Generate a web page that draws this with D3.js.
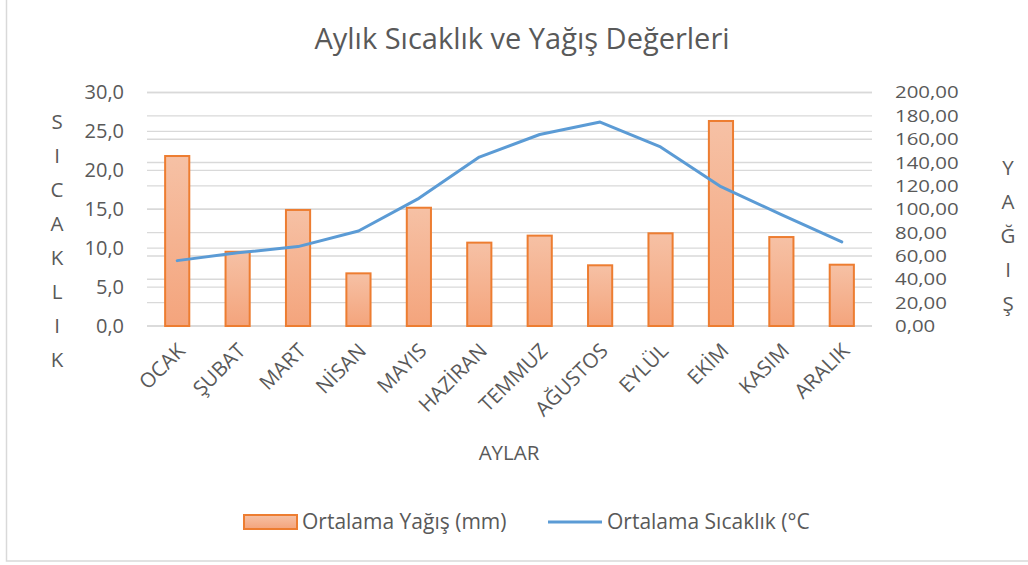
<!DOCTYPE html>
<html>
<head>
<meta charset="utf-8">
<script src="https://cdn.jsdelivr.net/npm/d3@7"></script>
<style>
  body { margin: 0; background: #fff; }
  text { font-family: "Open Sans", sans-serif; fill: #595959; }
</style>
</head>
<body>
<svg></svg>
<script>
const width = 1028
const height = 565

// data
const months = ["OCAK", "ŞUBAT", "MART", "NİSAN", "MAYIS", "HAZİRAN", "TEMMUZ", "AĞUSTOS", "EYLÜL", "EKİM", "KASIM", "ARALIK"]
const yagis = [145.6, 63.6, 99.4, 45.1, 101.3, 71.4, 77.4, 52.0, 79.4, 175.6, 76.2, 52.5]
const sicaklik = [8.4, 9.4, 10.2, 12.2, 16.4, 21.7, 24.6, 26.2, 23.0, 17.9, 14.3, 10.8]
const leftTicks = [0, 5, 10, 15, 20, 25, 30]
const rightTicks = [0, 20, 40, 60, 80, 100, 120, 140, 160, 180, 200]

const svg = d3.select("svg")
  .attr("width", width)
  .attr("height", height)

const tr = d3.formatLocale({decimal: ",", thousands: ".", grouping: [3], currency: ["", ""]})
const fmtL = tr.format(".1f")
const fmtR = tr.format(".2f")

const plot = {left: 147, right: 872, top: 92.5, bottom: 326}

const x = d3.scaleBand()
  .domain(months)
  .range([plot.left, plot.right])
  .paddingInner(0.6)
  .paddingOuter(0.3)

const yL = d3.scaleLinear().domain([0, 30]).range([plot.bottom, plot.top])
const yR = d3.scaleLinear().domain([0, 200]).range([plot.bottom, plot.top])

// chart border
svg.append("rect")
  .attr("x", 6.5).attr("y", -5)
  .attr("width", 1040).attr("height", 566)
  .attr("fill", "#fff")
  .attr("stroke", "#d9d9d9")
  .attr("stroke-width", 1.5)

const defs = svg.append("defs")
const grad = defs.append("linearGradient")
  .attr("id", "barGrad")
  .attr("x1", 0).attr("y1", 0).attr("x2", 0).attr("y2", 1)
grad.append("stop").attr("offset", "0%").attr("stop-color", "#f6c1a5")
grad.append("stop").attr("offset", "100%").attr("stop-color", "#f4a47c")

// title
svg.append("text")
  .attr("x", 522).attr("y", 49)
  .attr("text-anchor", "middle")
  .style("font-size", "29px")
  .text("Aylık Sıcaklık ve Yağış Değerleri")

// gridlines from both axes
const grid = svg.append("g")
grid.selectAll(".gl")
  .data(leftTicks)
  .enter()
  .append("line")
  .attr("x1", plot.left).attr("x2", plot.right)
  .attr("y1", d => yL(d)).attr("y2", d => yL(d))
  .attr("stroke", "#d9d9d9")
  .attr("stroke-width", 1.4)
grid.selectAll(".gr")
  .data(rightTicks)
  .enter()
  .append("line")
  .attr("x1", plot.left).attr("x2", plot.right)
  .attr("y1", d => yR(d)).attr("y2", d => yR(d))
  .attr("stroke", "#d9d9d9")
  .attr("stroke-width", 1.4)

// left axis labels
const axL = svg.append("g")
  .attr("transform", "translate(" + (plot.left - 23) + ",0)")
  .call(d3.axisLeft(yL).tickValues(leftTicks).tickFormat(fmtL).tickSize(0).tickPadding(0))
axL.select(".domain").remove()
axL.selectAll("text")
  .attr("fill", "#595959")
  .style("font-size", "20px")
  .style("font-family", "'Open Sans', sans-serif")

// right axis labels (tightly packed, as in the original) - stretched a bit sideways
const axR = svg.append("g")
  .attr("transform", "translate(" + (plot.right + 23) + ",0)")
  .call(d3.axisRight(yR).tickValues(rightTicks).tickFormat(fmtR).tickSize(0).tickPadding(0))
axR.select(".domain").remove()
axR.selectAll("text")
  .attr("fill", "#595959")
  .style("font-size", "17px")
  .style("font-family", "'Open Sans', sans-serif")
  .each(function() {
    d3.select(this)
      .attr("textLength", this.getComputedTextLength() * 1.2)
      .attr("lengthAdjust", "spacingAndGlyphs")
  })

// bars
svg.append("g")
  .selectAll("rect")
  .data(yagis)
  .enter()
  .append("rect")
  .attr("x", (d, i) => x(months[i]))
  .attr("y", d => yR(d))
  .attr("width", x.bandwidth())
  .attr("height", d => yR(0) - yR(d))
  .attr("fill", "url(#barGrad)")
  .attr("stroke", "#ed7d31")
  .attr("stroke-width", 2)

// temperature line
const line = d3.line()
  .x((d, i) => x(months[i]) + x.bandwidth() / 2)
  .y(d => yL(d))

svg.append("path")
  .datum(sicaklik)
  .attr("d", line)
  .attr("fill", "none")
  .attr("stroke", "#5b9bd5")
  .attr("stroke-width", 3)
  .attr("stroke-linejoin", "round")
  .attr("stroke-linecap", "round")

// month labels, rotated
svg.append("g")
  .selectAll("text")
  .data(months)
  .enter()
  .append("text")
  .attr("transform", d => "translate(" + (x(d) + x.bandwidth() / 2 + 4) + ",347) rotate(-45)")
  .attr("text-anchor", "end")
  .attr("dy", "0.35em")
  .style("font-size", "20.5px")
  .text(d => d)

// axis titles
svg.append("text")
  .attr("x", 509).attr("y", 460)
  .attr("text-anchor", "middle")
  .style("font-size", "20.5px")
  .text("AYLAR")

svg.append("g")
  .selectAll("text")
  .data("SICAKLIK".split(""))
  .enter()
  .append("text")
  .attr("x", 57)
  .attr("y", (d, i) => 122 + i * 34)
  .attr("dy", "0.35em")
  .attr("text-anchor", "middle")
  .style("font-size", "20.5px")
  .text(d => d)

svg.append("g")
  .selectAll("text")
  .data("YAĞIŞ".split(""))
  .enter()
  .append("text")
  .attr("x", 1008)
  .attr("y", (d, i) => 168 + i * 34)
  .attr("dy", "0.35em")
  .attr("text-anchor", "middle")
  .style("font-size", "20.5px")
  .text(d => d)

// legend
const legend = svg.append("g")
legend.append("rect")
  .attr("x", 244).attr("y", 515)
  .attr("width", 53).attr("height", 14)
  .attr("fill", "url(#barGrad)")
  .attr("stroke", "#ed7d31")
  .attr("stroke-width", 2)
legend.append("text")
  .attr("x", 302).attr("y", 522)
  .attr("dy", "0.35em")
  .style("font-size", "21px")
  .text("Ortalama Yağış (mm)")
legend.append("line")
  .attr("x1", 548).attr("x2", 602)
  .attr("y1", 522).attr("y2", 522)
  .attr("stroke", "#5b9bd5")
  .attr("stroke-width", 3)
legend.append("text")
  .attr("x", 607).attr("y", 522)
  .attr("dy", "0.35em")
  .style("font-size", "21px")
  .text("Ortalama Sıcaklık (°C")
</script>
</body>
</html>
